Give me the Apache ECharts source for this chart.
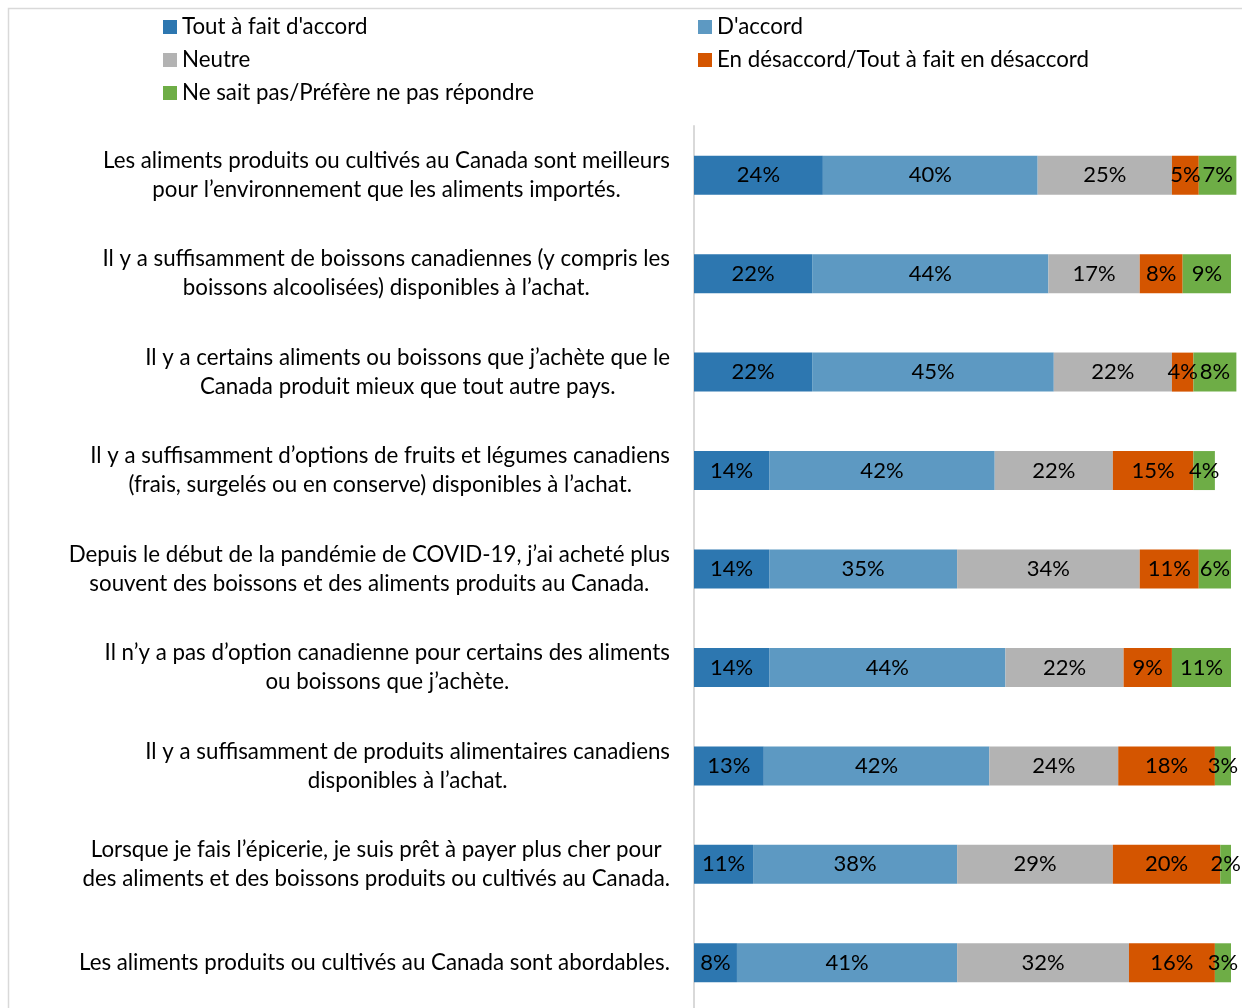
<!DOCTYPE html>
<html>
<head>
<meta charset="utf-8">
<script src="https://cdn.jsdelivr.net/npm/echarts@6/dist/echarts.min.js"></script>
<style>
html,body{margin:0;padding:0;background:#fff;overflow:hidden;}
#main{width:1242px;height:1024px;}
</style>
</head>
<body>
<div id="main"></div>
<script>
const categories = [
  "Les aliments produits ou cultivés au Canada sont meilleurs\npour l’environnement que les aliments importés.",
  "Il y a suffisamment de boissons canadiennes (y compris les\nboissons alcoolisées) disponibles à l’achat.",
  "Il y a certains aliments ou boissons que j’achète que le\nCanada produit mieux que tout autre pays.",
  "Il y a suffisamment d’options de fruits et légumes canadiens\n(frais, surgelés ou en conserve) disponibles à l’achat.",
  "Depuis le début de la pandémie de COVID-19, j’ai acheté plus\nsouvent des boissons et des aliments produits au Canada.",
  "Il n’y a pas d’option canadienne pour certains des aliments\nou boissons que j’achète.",
  "Il y a suffisamment de produits alimentaires canadiens\ndisponibles à l’achat.",
  "Lorsque je fais l’épicerie, je suis prêt à payer plus cher pour\ndes aliments et des boissons produits ou cultivés au Canada.",
  "Les aliments produits ou cultivés au Canada sont abordables."
];
const seriesNames = [
  "Tout à fait d'accord",
  "D'accord",
  "Neutre",
  "En désaccord/Tout à fait en désaccord",
  "Ne sait pas/Préfère ne pas répondre"
];
const toutAFait = [24, 22, 22, 14, 14, 14, 13, 11, 8];
const daccord   = [40, 44, 45, 42, 35, 44, 42, 38, 41];
const neutre    = [25, 17, 22, 22, 34, 22, 24, 29, 32];
const desaccord = [5, 8, 4, 15, 11, 9, 18, 20, 16];
const nspp      = [7, 9, 8, 4, 6, 11, 3, 2, 3];

const colors = ['#2D77B0', '#5D99C2', '#B3B3B3', '#D45500', '#6EAD46'];
const FONT = 'Lato';
const FS = 22.3;
const allData = [toutAFait, daccord, neutre, desaccord, nspp];

const chart = echarts.init(document.getElementById('main'));
const series = allData.map((d, i) => ({
  name: seriesNames[i],
  type: 'bar',
  stack: 'total',
  data: d,
  barWidth: 39,
  clip: false,
  itemStyle: { color: colors[i] },
  label: {
    show: true,
    position: 'inside',
    formatter: '{c}%',
    color: '#000',
    fontFamily: FONT,
    fontSize: 22
  },
  emphasis: { disabled: true }
}));

const legendText = { fontFamily: FONT, fontSize: FS, color: '#000' };

chart.setOption({
  animation: false,
  color: colors,
  textStyle: { fontFamily: FONT },
  graphic: [{
    type: 'rect',
    shape: { x: 8.5, y: 8.5, width: 1400, height: 1200 },
    style: { fill: 'none', stroke: '#D9D9D9', lineWidth: 1.5 },
    silent: true, z: -1
  }],
  legend: [
    {
      orient: 'vertical', left: 163, top: 16, padding: 0,
      itemWidth: 14, itemHeight: 14, itemGap: 11,
      icon: 'rect',
      data: [seriesNames[0], seriesNames[2], seriesNames[4]],
      textStyle: legendText,
      selectedMode: false
    },
    {
      orient: 'vertical', left: 698, top: 16, padding: 0,
      itemWidth: 14, itemHeight: 14, itemGap: 11,
      icon: 'rect',
      data: [seriesNames[1], seriesNames[3]],
      textStyle: legendText,
      selectedMode: false
    }
  ],
  grid: { left: 694, top: 126, width: 537, height: 886, containLabel: false },
  xAxis: {
    type: 'value', min: 0, max: 100, show: false
  },
  yAxis: {
    type: 'category',
    inverse: true,
    data: categories,
    axisLine: { show: true, lineStyle: { color: '#D9D9D9', width: 2 } },
    axisTick: { show: false },
    axisLabel: {
      margin: 24,
      fontFamily: FONT,
      fontSize: FS,
      color: '#000',
      lineHeight: 29,
      formatter: function (v) {
        return v.split('\n').map(s => '{c|' + s + '}').join('\n');
      },
      rich: { c: { align: 'center', fontFamily: FONT, fontSize: FS, lineHeight: 29, color: '#000' } }
    }
  },
  series: series
});
</script>
</body>
</html>
